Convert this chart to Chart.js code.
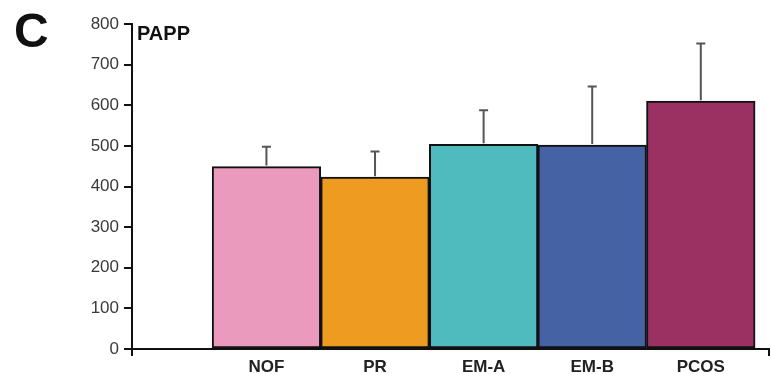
<!DOCTYPE html>
<html>
<head>
<meta charset="utf-8">
<script src="https://cdn.jsdelivr.net/npm/chart.js@4/dist/chart.umd.min.js"></script>
<style>
  html, body { margin: 0; padding: 0; background: #ffffff; }
  #wrap { width: 771px; height: 374px; }
</style>
</head>
<body>
<div id="wrap"><canvas id="c" width="771" height="374"></canvas></div>
<script>
const categories = ['NOF', 'PR', 'EM-A', 'EM-B', 'PCOS'];
const values = [449, 423, 504, 502, 610];
const errors = [49, 63, 84, 144, 142];
const barColors = ['#E99ABD', '#EE9B22', '#50BBBE', '#4562A5', '#9B3162'];
const yTicks = [0, 100, 200, 300, 400, 500, 600, 700, 800];
const panelLetter = 'C';
const axisTitle = 'PAPP';

const X_MIN = -1.238, X_MAX = 4.628;

const errorBars = {
  id: 'errorBars',
  afterDatasetsDraw(chart) {
    const ctx = chart.ctx;
    const meta = chart.getDatasetMeta(0);
    const y = chart.scales.y;
    ctx.save();
    ctx.strokeStyle = '#555555';
    ctx.lineWidth = 2;
    meta.data.forEach((bar, i) => {
      const top = y.getPixelForValue(values[i]);
      const hi = y.getPixelForValue(values[i] + errors[i]);
      ctx.beginPath();
      ctx.moveTo(bar.x, top - 1);
      ctx.lineTo(bar.x, hi);
      ctx.moveTo(bar.x - 4.5, hi);
      ctx.lineTo(bar.x + 4.5, hi);
      ctx.stroke();
    });
    ctx.restore();
  }
};

const labelsPlugin = {
  id: 'labelsPlugin',
  afterDraw(chart) {
    const ctx = chart.ctx;
    const area = chart.chartArea;
    ctx.save();
    ctx.fillStyle = '#111111';
    ctx.textBaseline = 'alphabetic';
    ctx.textAlign = 'left';
    ctx.font = 'bold 48px "Liberation Sans", Arial, sans-serif';
    ctx.fillText(panelLetter, 14, 47);
    ctx.font = 'bold 20px "Liberation Sans", Arial, sans-serif';
    ctx.fillText(axisTitle, area.left + 5, area.top + 16);
    ctx.restore();
  }
};

new Chart(document.getElementById('c'), {
  type: 'bar',
  data: {
    datasets: [{
      data: values.map((v, i) => ({ x: i, y: v })),
      backgroundColor: barColors,
      borderColor: '#111111',
      borderWidth: 2,
      borderSkipped: false,
      barThickness: 'flex',
      categoryPercentage: 1,
      barPercentage: 1
    }]
  },
  options: {
    responsive: false,
    animation: false,
    devicePixelRatio: 1,
    layout: { padding: { top: 24, right: 2, left: 0, bottom: 0 } },
    plugins: { legend: { display: false }, tooltip: { enabled: false } },
    scales: {
      x: {
        type: 'linear',
        min: X_MIN,
        max: X_MAX,
        offset: false,
        afterFit(scale) { scale.height = 25; },
        afterBuildTicks(scale) {
          scale.ticks = [X_MIN].concat(categories.map((_, i) => i), [X_MAX]).map(v => ({ value: v }));
        },
        border: { display: true, color: '#111111', width: 2 },
        grid: {
          offset: false,
          drawOnChartArea: false,
          drawTicks: true,
          tickLength: 7,
          lineWidth: 2,
          color: (c) => (c.index === 0 || c.index === categories.length + 1) ? '#111111' : 'rgba(0,0,0,0)'
        },
        ticks: {
          autoSkip: false,
          maxRotation: 0,
          padding: 1,
          color: '#222222',
          font: { family: '"Liberation Sans", Arial, sans-serif', size: 17, weight: 'bold' },
          callback: (v) => (Number.isInteger(v) && categories[v] !== undefined) ? categories[v] : ''
        }
      },
      y: {
        min: 0,
        max: 800,
        afterFit(scale) { scale.width = 132; },
        afterBuildTicks(scale) { scale.ticks = yTicks.map(v => ({ value: v })); },
        border: { display: true, color: '#111111', width: 2 },
        grid: {
          drawOnChartArea: false,
          drawTicks: true,
          tickLength: 8,
          lineWidth: 2,
          color: '#111111'
        },
        ticks: {
          padding: 5,
          color: '#3a3a3a',
          font: { family: '"Liberation Sans", Arial, sans-serif', size: 17 }
        }
      }
    }
  },
  plugins: [errorBars, labelsPlugin]
});
</script>
</body>
</html>
